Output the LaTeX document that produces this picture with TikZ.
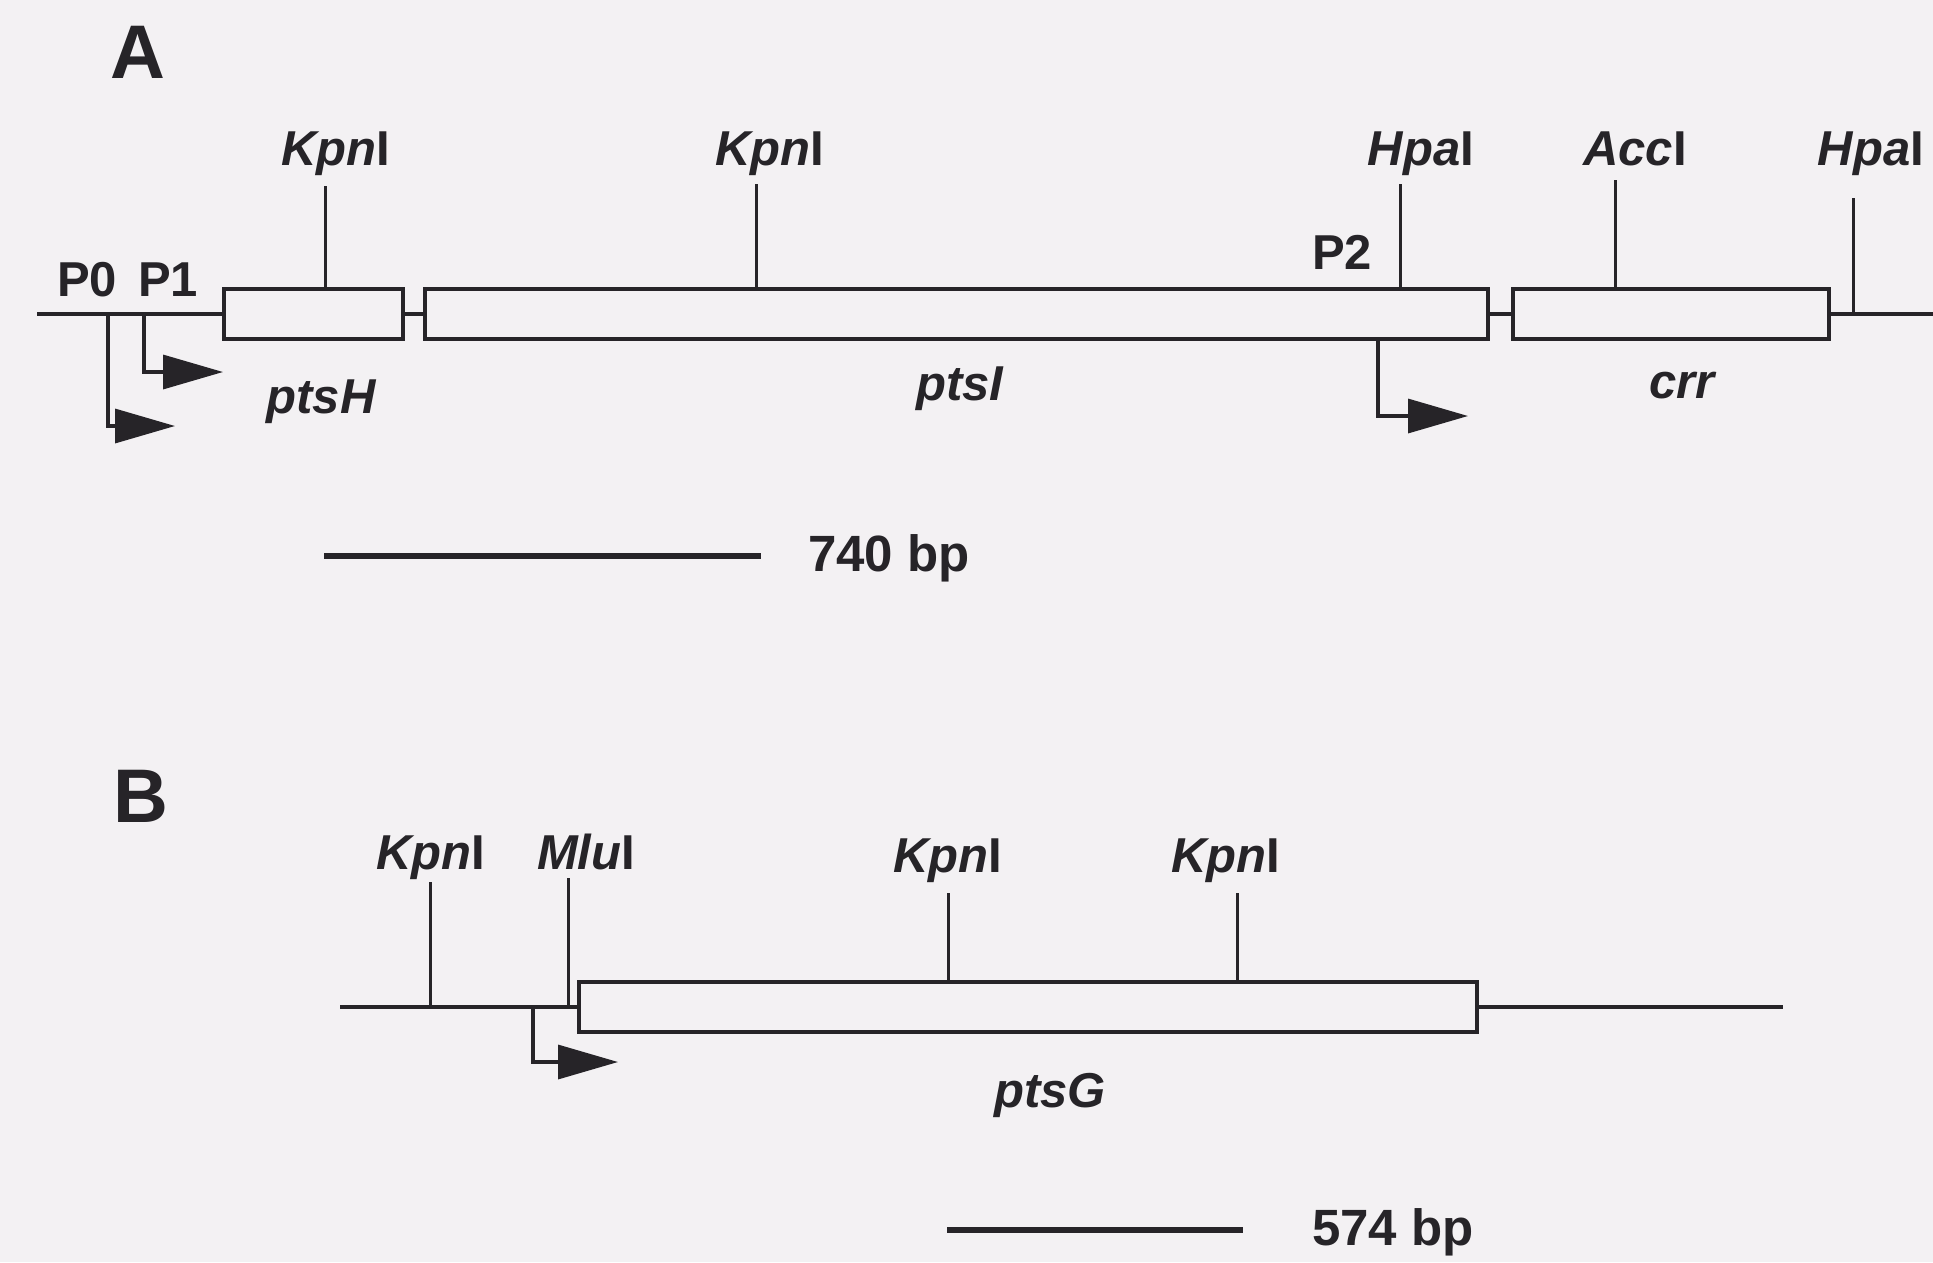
\documentclass[tikz,border=0pt]{standalone}
\usepackage{fontspec}
\setmainfont{Liberation Sans}
\usetikzlibrary{arrows.meta}
\definecolor{bg}{RGB}{243,241,243}
\definecolor{ink}{RGB}{38,36,40}
\tikzset{
  dna/.style={draw=ink, line width=3.4pt},
  genebox/.style={draw=ink, line width=4.6pt, fill=bg, rectangle, inner sep=0pt, minimum height=50pt},
  site/.style={draw=ink, line width=3pt},
  prom/.style={draw=ink, line width=3.4pt, -{Triangle[length=60pt,width=34pt]}},
  enz/.style={font=\fontsize{49}{55}\selectfont\bfseries, text=ink, anchor=base, inner sep=0pt},
  genelab/.style={font=\fontsize{49}{55}\selectfont\bfseries\itshape, text=ink, anchor=base, inner sep=0pt},
  panel/.style={font=\fontsize{76}{80}\selectfont\bfseries, text=ink, anchor=base west, inner sep=0pt},
  scalebar/.style={draw=ink, line width=6.5pt},
  scalelab/.style={font=\fontsize{51}{56}\selectfont\bfseries, text=ink, anchor=base west, inner sep=0pt}
}
\begin{document}
\begin{tikzpicture}[x=1pt,y=-1pt]
\useasboundingbox[fill=bg] (0,0) rectangle (1933,1262);

% ---------------- Panel A ----------------
\node[panel] (labA) at (110,78) {A};

\node[genebox, minimum width=179pt] (ptsH) at (313.5,314) {};
\node[genebox, minimum width=1063pt] (ptsI) at (956.5,314) {};
\node[genebox, minimum width=316pt] (crr) at (1671,314) {};

\coordinate (aL) at (37,314);
\coordinate (aR) at (1933,314);
\draw[dna] (aL) -- (ptsH.west);
\draw[dna] (ptsH.east) -- (ptsI.west);
\draw[dna] (ptsI.east) -- (crr.west);
\draw[dna] (crr.east) -- (aR);

% restriction sites A
\node[enz] (kpnA1) at (336,165) {{\itshape Kpn}I};
\node[enz] (kpnA2) at (770,165) {{\itshape Kpn}I};
\node[enz] (hpaA1) at (1421,165) {{\itshape Hpa}I};
\node[enz] (accA) at (1635,165) {{\itshape Acc}I};
\node[enz] (hpaA2) at (1871,165) {{\itshape Hpa}I};

\coordinate (tKA1) at (325,186);
\coordinate (tKA2) at (756,184);
\coordinate (tHA1) at (1400,184);
\coordinate (tAA) at (1615,180);
\coordinate (tHA2) at (1853,198);
\draw[site] (tKA1) -- (tKA1 |- ptsH.north);
\draw[site] (tKA2) -- (tKA2 |- ptsI.north);
\draw[site] (tHA1) -- (tHA1 |- ptsI.north);
\draw[site] (tAA) -- (tAA |- crr.north);
\draw[site] (tHA2) -- (tHA2 |- aR);

% promoters A
\node[enz] (P0) at (87,296) {P0};
\node[enz] (P1) at (168,296) {P1};
\node[enz] (P2) at (1342,269) {P2};

\coordinate (p0s) at (108,314);
\coordinate (p0e) at (175,426);
\coordinate (p1s) at (144,314);
\coordinate (p1e) at (223,372);
\coordinate (p2s) at (1378,339);
\coordinate (p2e) at (1468,416);
\draw[prom] (p0s) |- (p0e);
\draw[prom] (p1s) |- (p1e);
\draw[prom] (p2s) |- (p2e);

% gene labels A
\node[genelab] (lptsH) at (321,413) {ptsH};
\node[genelab] (lptsI) at (960,400) {ptsI};
\node[genelab] (lcrr) at (1682,398) {crr};

% scale A
\coordinate (sA1) at (324,556);
\coordinate (sA2) at (761,556);
\draw[scalebar] (sA1) -- (sA2);
\node[scalelab] (bpA) at (808,571) {740 bp};

% ---------------- Panel B ----------------
\node[panel] (labB) at (113,822) {B};

\node[genebox, minimum width=898pt] (ptsG) at (1028,1007) {};
\coordinate (bL) at (340,1007);
\coordinate (bR) at (1783,1007);
\draw[dna] (bL) -- (ptsG.west);
\draw[dna] (ptsG.east) -- (bR);

\node[enz] (kpnB1) at (431,869) {{\itshape Kpn}I};
\node[enz] (mluB) at (586,869) {{\itshape Mlu}I};
\node[enz] (kpnB2) at (948,872) {{\itshape Kpn}I};
\node[enz] (kpnB3) at (1226,872) {{\itshape Kpn}I};

\coordinate (tKB1) at (430,882);
\coordinate (tMB) at (568,878);
\coordinate (tKB2) at (948,893);
\coordinate (tKB3) at (1237,893);
\draw[site] (tKB1) -- (tKB1 |- bL);
\draw[site] (tMB) -- (tMB |- bL);
\draw[site] (tKB2) -- (tKB2 |- ptsG.north);
\draw[site] (tKB3) -- (tKB3 |- ptsG.north);

\coordinate (pBs) at (533,1007);
\coordinate (pBe) at (618,1062);
\draw[prom] (pBs) |- (pBe);

\node[genelab] (lptsG) at (1050,1107) {ptsG};

\coordinate (sB1) at (947,1230);
\coordinate (sB2) at (1243,1230);
\draw[scalebar] (sB1) -- (sB2);
\node[scalelab] (bpB) at (1312,1245) {574 bp};
\end{tikzpicture}
\end{document}
